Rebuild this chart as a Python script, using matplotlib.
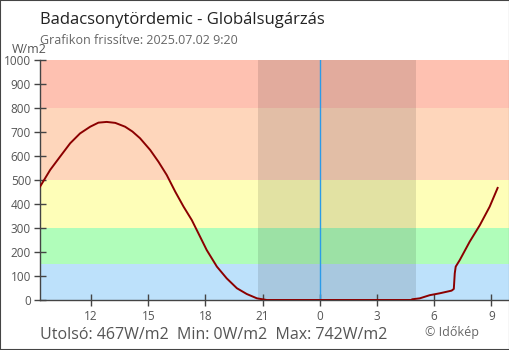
import matplotlib
matplotlib.use("Agg")
import matplotlib.pyplot as plt
from matplotlib.patches import Rectangle

plt.rcParams['font.family'] = ['Open Sans', 'DejaVu Sans']

# Times as (day offset, "HH:MM"); day -1 = 2025.07.01, 0 = 2025.07.02
times = [(-1, "09:19"), (-1, "09:51"), (-1, "10:22"), (-1, "10:54"), (-1, "11:25"),
         (-1, "11:57"), (-1, "12:23"), (-1, "12:49"), (-1, "13:16"), (-1, "13:47"),
         (-1, "14:10"), (-1, "14:34"), (-1, "15:06"), (-1, "15:32"), (-1, "15:58"),
         (-1, "16:25"), (-1, "16:51"), (-1, "17:17"), (-1, "17:43"), (-1, "18:04"),
         (-1, "18:36"), (-1, "19:07"), (-1, "19:39"), (-1, "20:10"), (-1, "20:42"),
         (-1, "21:13"), (-1, "22:30"),
         (0, "00:00"), (0, "02:00"), (0, "04:00"), (0, "04:48"), (0, "04:51"),
         (0, "05:15"), (0, "05:46"), (0, "06:18"), (0, "06:55"), (0, "07:02"),
         (0, "07:05"), (0, "07:08"), (0, "07:21"), (0, "07:52"), (0, "08:24"),
         (0, "08:55"), (0, "09:20")]
values = [472, 542, 597, 653, 694,
          722, 739, 742, 738, 722,
          702, 674, 625, 576, 521,
          451, 389, 333, 264, 208,
          139, 90, 49, 25, 7,
          0, 0,
          0, 0, 0, 0, 3,
          7, 20, 28, 39, 46,
          111, 139, 167, 243, 312,
          389, 467]

band_edges = [0, 150, 300, 500, 800, 1000]
band_colors = ['#bde1fb', '#b0fdba', '#fefeb8', '#fed6bb', '#fec1b1']
night = [(-1, "20:46"), (0, "05:03")]
tick_hours = [-12, -9, -6, -3, 0, 3, 6, 9]
tick_labels = ["12", "15", "18", "21", "0", "3", "6", "9"]
yticks = [0, 100, 200, 300, 400, 500, 600, 700, 800, 900, 1000]

title = "Badacsonytördemic - Globálsugárzás"
subtitle = "Grafikon frissítve: 2025.07.02 9:20"
stats = "Utolsó: 467W/m2  Min: 0W/m2  Max: 742W/m2"
credit = "© Időkép"


def to_h(t):
    d, s = t
    hh, mm = s.split(":")
    return d * 24 + int(hh) + int(mm) / 60.0


x = [to_h(t) for t in times]

W, H = 510, 350
fig = plt.figure(figsize=(W / 100, H / 100), dpi=100)
ax = fig.add_axes([40 / W, 50 / H, 469 / W, 240 / H])

x0, x1 = to_h((-1, "09:19")), 9.93
for lo, hi, c in zip(band_edges[:-1], band_edges[1:], band_colors):
    ax.axhspan(lo, hi, color=c, lw=0, zorder=0)
ax.axvspan(to_h(night[0]), to_h(night[1]), color='#000000', alpha=0.11, lw=0, zorder=1)
ax.axvline(0, color='#2b9be8', lw=1.0, zorder=2)
ax.plot(x, values, color='#8b0000', lw=1.4, zorder=3, solid_joinstyle='round')

ax.set_xlim(x0, x1)
ax.set_ylim(0, 1000)
ax.set_xticks(tick_hours)
ax.set_xticklabels(tick_labels)
ax.set_yticks(yticks)
for s in ['top', 'right']:
    ax.spines[s].set_visible(False)
for s in ['left', 'bottom']:
    ax.spines[s].set_color('#444444')
    ax.spines[s].set_linewidth(1.0)
ax.tick_params(axis='both', direction='inout', length=9, width=1, color='#444444',
               labelcolor='#555555', labelsize=8.5)
ax.tick_params(axis='x', pad=3)
ax.tick_params(axis='y', pad=2)

fig.text(40 / W, 1 - 24 / H, title, fontsize=12, color='#222222', va='baseline')
fig.text(40 / W, 1 - 44 / H, subtitle, fontsize=9, color='#666666', va='baseline')
fig.text(12 / W, 1 - 53 / H, "W/m2", fontsize=9, color='#555555', va='baseline')
fig.text(40 / W, 1 - 339 / H, stats, fontsize=11.5, color='#555555', va='baseline')
fig.text(425 / W, 1 - 336 / H, credit, fontsize=9, color='#666666', va='baseline')

fig.patches.append(Rectangle((0, 0), 1, 1, transform=fig.transFigure, fill=False,
                             edgecolor='#444444', lw=1.5, zorder=10))

fig.savefig("out.png", dpi=100)
